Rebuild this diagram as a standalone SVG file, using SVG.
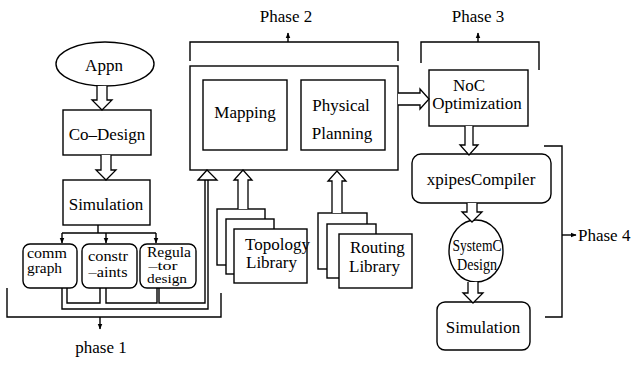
<svg xmlns="http://www.w3.org/2000/svg" width="639" height="368" viewBox="0 0 639 368">
<style>
  .ln{fill:none;stroke:#000;stroke-width:1.4}
  .bx{fill:#fff;stroke:#000;stroke-width:1.4}
  .ha{fill:#fff;stroke:#000;stroke-width:1.3;stroke-linejoin:miter}
  text{font-family:"Liberation Serif","Times New Roman",serif;font-size:17px;fill:#000}
  .c{text-anchor:middle}
  .s{font-size:15px}
  .t{font-size:12px}
  .m{font-size:16px}
</style>
<defs>
  <marker id="ah" viewBox="0 0 10 10" refX="9" refY="5" markerWidth="6" markerHeight="6" orient="auto" markerUnits="userSpaceOnUse">
    <path d="M0,1 L10,5 L0,9 Z" fill="#000"/>
  </marker>
</defs>
<rect width="639" height="368" fill="#fff"/>

<!-- Phase brackets and labels -->
<g id="phase2-label">
  <path class="ln" d="M190,61 V42 H398 V61"/>
  <path class="ln" d="M288,42 V33" marker-end="url(#ah)"/>
  <text class="c" x="286" y="22">Phase 2</text>
</g>
<g id="phase3-label">
  <path class="ln" d="M421,63 V42 H539 V70"/>
  <path class="ln" d="M478,42 V33" marker-end="url(#ah)"/>
  <text class="c" x="478" y="22">Phase 3</text>
</g>
<g id="phase4-label">
  <path class="ln" d="M544,146 H562 V317 H545"/>
  <path class="ln" d="M562,235 H576" marker-end="url(#ah)"/>
  <text x="578" y="241">Phase 4</text>
</g>
<g id="phase1-label">
  <path class="ln" d="M7,288 V317 H221 V293"/>
  <path class="ln" d="M100,317 V329" marker-end="url(#ah)"/>
  <text class="c" x="101" y="353">phase 1</text>
</g>

<!-- Nodes -->
<g id="appn">
  <ellipse class="bx" cx="105" cy="64" rx="49" ry="22"/>
  <text class="c" x="104" y="71">Appn</text>
</g>
<g id="codesign">
  <rect class="bx" x="63" y="110" width="88" height="45"/>
  <text class="c" x="107" y="140">Co–Design</text>
</g>
<g id="simulation1">
  <rect class="bx" x="63" y="180" width="87" height="45"/>
  <text class="c" x="106" y="210">Simulation</text>
</g>
<g id="commgraph">
  <rect class="bx" x="23" y="244" width="54" height="44" rx="7"/>
  <text class="s" x="27" y="258" textLength="40" lengthAdjust="spacingAndGlyphs">comm</text>
  <text class="s" x="27" y="273" textLength="35" lengthAdjust="spacingAndGlyphs">graph</text>
</g>
<g id="constraints">
  <rect class="bx" x="82" y="244" width="55" height="44" rx="7"/>
  <text class="s c" x="108" y="261" textLength="40" lengthAdjust="spacingAndGlyphs">constr</text>
  <text class="s c" x="108" y="277" textLength="39" lengthAdjust="spacingAndGlyphs">–aints</text>
</g>
<g id="regulator">
  <rect class="bx" x="140" y="244" width="56" height="44" rx="7"/>
  <text class="s c" x="169" y="257" textLength="44" lengthAdjust="spacingAndGlyphs">Regula</text>
  <text class="t c" x="163" y="270" textLength="29" lengthAdjust="spacingAndGlyphs">–tor</text>
  <text class="t c" x="167" y="283" textLength="40" lengthAdjust="spacingAndGlyphs">design</text>
</g>
<g id="phase2box">
  <rect class="bx" x="190" y="66" width="208" height="104"/>
</g>
<g id="mapping">
  <rect class="bx" x="203" y="80" width="84" height="70"/>
  <text class="c" x="245" y="118">Mapping</text>
</g>
<g id="physical">
  <rect class="bx" x="301" y="80" width="84" height="70"/>
  <text class="c" x="341" y="111">Physical</text>
  <text class="c" x="342" y="139">Planning</text>
</g>
<g id="topology">
  <rect class="bx" x="217" y="209" width="48" height="56"/>
  <rect class="bx" x="226" y="219" width="48" height="55"/>
  <rect class="bx" x="234" y="229" width="73" height="54"/>
  <text x="245" y="250">Topology</text>
  <text x="246" y="268">Library</text>
</g>
<g id="routing">
  <rect class="bx" x="318" y="213" width="49" height="56"/>
  <rect class="bx" x="327" y="224" width="49" height="54"/>
  <rect class="bx" x="339" y="234" width="73" height="54"/>
  <text x="350" y="253">Routing</text>
  <text x="349" y="272">Library</text>
</g>
<g id="noc">
  <rect class="bx" x="429" y="70" width="99" height="56"/>
  <text class="c" x="469" y="91">NoC</text>
  <text class="c" x="477" y="109">Optimization</text>
</g>
<g id="xpipes">
  <rect class="bx" x="412" y="154" width="139" height="49" rx="9"/>
  <text class="c" x="481" y="185">xpipesCompiler</text>
</g>
<g id="systemc">
  <ellipse class="bx" cx="476" cy="251" rx="27" ry="31"/>
  <text class="m c" x="477" y="251" textLength="49" lengthAdjust="spacingAndGlyphs">SystemC</text>
  <text class="m c" x="477" y="270" textLength="40" lengthAdjust="spacingAndGlyphs">Design</text>
</g>
<g id="simulation2">
  <rect class="bx" x="437" y="302" width="93" height="48" rx="8"/>
  <text class="c" x="483" y="333">Simulation</text>
</g>

<!-- Connectors -->
<g id="connectors">
  <!-- hollow arrows -->
  <path class="ha" d="M97,86 V100 H92 L102,110 L112,100 H107 V86"/>
  <path class="ha" d="M101,155 V170 H96 L106,180 L116,170 H111 V155"/>
  <path class="ha" d="M238,209 V180 H234 L243,170 L252,180 H248 V209"/>
  <path class="ha" d="M332,213 V181 H328 L337,171 L346,181 H342 V213"/>
  <path class="ha" d="M398,93 H420 V89 L429,99 L420,109 V105 H398"/>
  <path class="ha" d="M465,126 V145 H460 L469,155 L478,145 H473 V126"/>
  <path class="ha" d="M467,203 V212 H462 L472,222 L482,212 H477 V203"/>
  <path class="ha" d="M468,282 V293 H463 L473,303 L483,293 H478 V282"/>
  <!-- simulation fan-out -->
  <path class="ln" d="M98,225 V233 M62,233 H156"/>
  <path class="ln" d="M62,233 V243" marker-end="url(#ah)"/>
  <path class="ln" d="M106,233 V243" marker-end="url(#ah)"/>
  <path class="ln" d="M156,233 V243" marker-end="url(#ah)"/>
  <!-- feedback lines -->
  <path class="ln" d="M62,288 V309 H208 V180"/>
  <path class="ln" d="M67,288 V303 H100 V288"/>
  <path class="ln" d="M106,288 V303 H157 V288"/>
  <path class="ln" d="M159,288 V303 H205 V180"/>
  <path class="ha" d="M198,180 L207,170 L217,180 Z"/>
</g>
</svg>
